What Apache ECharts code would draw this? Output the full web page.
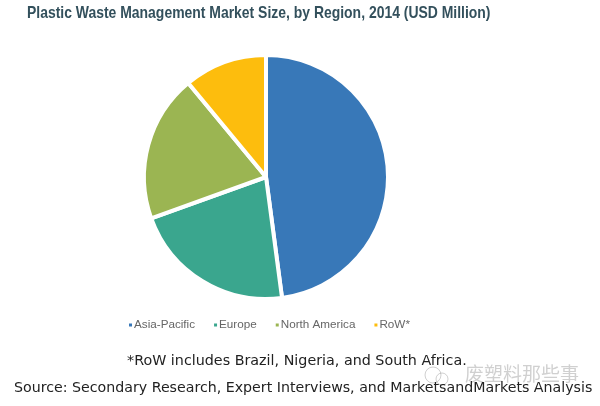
<!DOCTYPE html>
<html>
<head>
<meta charset="utf-8">
<style>html,body{margin:0;padding:0;background:#fff}#main{width:600px;height:406px}</style>
<script src="https://cdn.jsdelivr.net/npm/echarts@6/dist/echarts.min.js"></script>
</head>
<body>
<div id="main"></div>
<script>
// share of market, clockwise from 12 o'clock
var regions = ['Asia-Pacific', 'Europe', 'North America', 'RoW*'];
var shares = [47.9, 21.6, 19.5, 11];
var colors = ['#3878b8', '#3aa68e', '#9bb552', '#fdbd0d'];

var titleText = 'Plastic Waste Management Market Size, by Region, 2014 (USD Million)';
var noteText = '*RoW includes Brazil, Nigeria, and South Africa.';
var sourceText = 'Source: Secondary Research, Expert Interviews, and MarketsandMarkets Analysis';
var markText = '废塑料那些事';

var chart = echarts.init(document.getElementById('main'));

var option = {
    animation: false,
    backgroundColor: '#fff',
    title: [
        {
            text: noteText,
            left: 122,
            top: 347,
            textStyle: {
                fontFamily: 'DejaVu Sans',
                fontSize: 14.3,
                fontWeight: 'normal',
                lineHeight: 18,
                color: '#222'
            }
        },
        {
            text: sourceText,
            left: 9,
            top: 374,
            textStyle: {
                fontFamily: 'DejaVu Sans',
                fontSize: 14.2,
                fontWeight: 'normal',
                lineHeight: 18,
                color: '#222'
            }
        }
    ],
    legend: {
        data: regions,
        left: 122,
        top: 314,
        icon: 'rect',
        itemWidth: 5,
        itemHeight: 5,
        itemGap: 17,
        textStyle: {
            fontFamily: 'Liberation Sans',
            fontSize: 11.7,
            color: '#666',
            padding: [0, 0, 0, -4]
        }
    },
    series: [
        {
            type: 'pie',
            center: [266, 177],
            radius: [0, 122],
            startAngle: 90,
            clockwise: true,
            label: { show: false },
            labelLine: { show: false },
            itemStyle: {
                borderColor: '#fff',
                borderWidth: 4
            },
            data: regions.map(function (name, i) {
                return { name: name, value: shares[i], itemStyle: { color: colors[i] } };
            })
        }
    ],
    graphic: [
        {
            // no narrow font installed, so the title is squeezed sideways
            type: 'text',
            x: 27,
            y: 5,
            scaleX: 0.82,
            silent: true,
            style: {
                text: titleText,
                font: 'bold 17px "Liberation Sans"',
                fill: '#33505c'
            }
        },
        {
            type: 'text',
            x: 465,
            y: 364,
            silent: true,
            style: {
                text: markText,
                font: '19px "Noto Sans CJK SC"',
                fill: 'rgba(150,150,150,0.45)'
            }
        },
        {
            type: 'circle',
            shape: { cx: 433, cy: 375, r: 8 },
            style: { fill: 'none', stroke: 'rgba(150,150,150,0.45)', lineWidth: 1 }
        },
        {
            type: 'circle',
            shape: { cx: 442, cy: 379, r: 6 },
            style: { fill: 'none', stroke: 'rgba(150,150,150,0.45)', lineWidth: 1 }
        }
    ]
};

chart.setOption(option);
</script>
</body>
</html>
